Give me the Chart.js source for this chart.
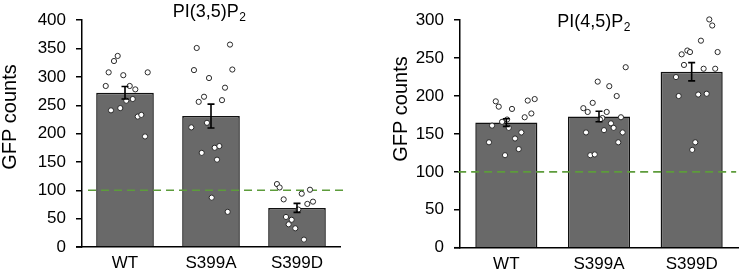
<!DOCTYPE html>
<html><head><meta charset="utf-8">
<script src="https://cdn.jsdelivr.net/npm/chart.js@4.4.0/dist/chart.umd.min.js"></script>
<style>
html,body{margin:0;padding:0;background:#fff;}
#wrap{position:relative;width:747px;height:272px;overflow:hidden;}
#c1{position:absolute;left:0;top:0;}
#c2{position:absolute;left:375px;top:0;}
</style></head><body>
<div id="wrap"><canvas id="c1" width="375" height="272"></canvas><canvas id="c2" width="372" height="272"></canvas></div>
<script>
// ---------- data ----------
const categories = ['WT', 'S399A', 'S399D'];
const yTitle = 'GFP counts';
const thresholdValue = 100;

// PI(3,5)P2 panel
const pi35Title = ['PI(3,5)P', '2'];
const pi35Ticks = [0, 50, 100, 150, 200, 250, 300, 350, 400];
const pi35Means = [272, 231, 69];
const pi35Sem = [11, 21, 8];
const pi35WT = [337, 328, 308, 303, 308, 284, 284, 278, 261, 258, 241, 245, 230, 233, 195];
const pi35WTJitter = [-0.085, -0.128, -0.19, -0.02, 0.264, -0.224, 0.055, 0.12, 0.09, 0.015, -0.163, -0.055, 0.148, 0.19, 0.233];
const pi35A = [351, 357, 312, 313, 298, 281, 265, 256, 259, 219, 211, 166, 175, 178, 154, 87, 62];
const pi35AJitter = [-0.166, 0.221, -0.198, 0.248, -0.023, 0.163, -0.081, -0.143, 0.128, -0.047, -0.229, -0.108, 0.043, 0.097, 0.07, 0.008, 0.194];
const pi35D = [111, 105, 84, 94, 101, 76, 80, 66, 53, 48, 40, 33, 13];
const pi35DJitter = [-0.233, -0.202, -0.155, 0.055, 0.151, 0.12, 0.186, 0.015, -0.128, -0.062, -0.097, -0.02, 0.081];

// PI(4,5)P2 panel
const pi45Title = ['PI(4,5)P', '2'];
const pi45Ticks = [0, 50, 100, 150, 200, 250, 300];
const pi45Means = [165, 173, 232];
const pi45Sem = [5, 7, 12];
const pi45WT = [193, 186, 183, 194, 196, 177, 172, 169, 166, 161, 158, 152, 144, 139, 130, 122];
const pi45WTJitter = [-0.114, -0.082, 0.061, 0.231, 0.306, 0.27, 0.198, 0.008, -0.046, -0.154, 0.026, 0.162, 0.094, -0.187, 0.134, -0.014];
const pi45A = [238, 219, 213, 200, 191, 184, 179, 179, 171, 169, 172, 164, 158, 155, 152, 152, 139, 122, 123];
const pi45AJitter = [0.288, -0.014, 0.111, 0.191, -0.068, -0.169, -0.122, 0.083, 0.036, 0.011, 0.237, 0.129, 0.158, 0.054, -0.14, 0.255, 0.208, -0.094, -0.046];
const pi45D = [301, 293, 273, 260, 258, 255, 258, 241, 236, 236, 225, 200, 202, 203, 139, 129];
const pi45DJitter = [0.19, 0.222, 0.1, -0.047, -0.018, -0.108, 0.28, -0.083, 0.129, 0.254, -0.169, -0.14, 0.071, 0.162, 0.039, 0.006];

// ---------- rendering ----------
const FONT = '"Liberation Sans", Arial, sans-serif';
const BAR_FILL = '#696969';
const DASH_GREEN = '#5d9c3b';

function pointsFrom(groups) {
  const out = [];
  groups.forEach(([vals, jit], i) => vals.forEach((v, j) => out.push({x: i + jit[j], y: v})));
  return out;
}

const errorBarPlugin = {
  id: 'errorBars',
  afterDatasetsDraw(chart, args, opts) {
    const {ctx} = chart;
    const xs = chart.scales.x, ys = chart.scales.y;
    ctx.save();
    ctx.strokeStyle = '#000';
    ctx.lineWidth = 1.6;
    opts.means.forEach((m, i) => {
      const x = xs.getPixelForValue(i);
      const yt = ys.getPixelForValue(m + opts.sem[i]);
      const yb = ys.getPixelForValue(m - opts.sem[i]);
      ctx.beginPath();
      ctx.moveTo(x, yt); ctx.lineTo(x, yb);
      ctx.moveTo(x - 3.5, yt); ctx.lineTo(x + 3.5, yt);
      ctx.moveTo(x - 3.5, yb); ctx.lineTo(x + 3.5, yb);
      ctx.stroke();
    });
    ctx.restore();
  }
};

const textPlugin = {
  id: 'panelText',
  afterDraw(chart, args, opts) {
    const {ctx, chartArea} = chart;
    ctx.save();
    ctx.fillStyle = '#000';
    ctx.font = '18px ' + FONT;
    const wMain = ctx.measureText(opts.title[0]).width;
    ctx.font = '12px ' + FONT;
    const wSub = ctx.measureText(opts.title[1]).width;
    const start = opts.titleX - (wMain + wSub) / 2;
    ctx.textBaseline = 'alphabetic';
    ctx.textAlign = 'left';
    ctx.font = '18px ' + FONT;
    ctx.fillText(opts.title[0], start, opts.titleY);
    ctx.font = '12px ' + FONT;
    ctx.fillText(opts.title[1], start + wMain + 0.5, opts.titleY + 4);
    ctx.font = opts.yTitleSize + 'px ' + FONT;
    ctx.translate(opts.yTitleX, opts.yTitleY);
    ctx.rotate(-Math.PI / 2);
    ctx.textAlign = 'center';
    ctx.textBaseline = 'middle';
    ctx.fillText(yTitle, 0, 0);
    ctx.restore();
    ctx.save();
    ctx.strokeStyle = '#000';
    ctx.lineWidth = 1.5;
    ctx.beginPath();
    ctx.moveTo(chartArea.left - 6, chartArea.bottom);
    ctx.lineTo(chartArea.left, chartArea.bottom);
    ctx.stroke();
    ctx.restore();
  }
};

function makeChart(canvasId, cfg) {
  const ctx = document.getElementById(canvasId);
  return new Chart(ctx, {
    data: {
      labels: categories,
      datasets: [
        {
          type: 'line', order: 0, xAxisID: 'xj', yAxisID: 'y',
          data: cfg.points, showLine: false,
          pointRadius: 2.6, pointBorderWidth: 1,
          pointBackgroundColor: '#fff', pointBorderColor: '#2a2a2a',
          clip: false
        },
        {
          type: 'line', order: 1, xAxisID: 'xj', yAxisID: 'y',
          data: [{x: cfg.dashFrom, y: thresholdValue}, {x: cfg.dashTo, y: thresholdValue}],
          borderColor: DASH_GREEN, borderWidth: 1.6, borderDash: [8, 5],
          pointRadius: 0, clip: false
        },
        {
          type: 'bar', order: 2, xAxisID: 'x', yAxisID: 'y',
          data: cfg.means, grouped: false,
          backgroundColor: BAR_FILL, borderColor: '#111', borderWidth: 1.5,
          categoryPercentage: 1.0, barPercentage: 0.67
        }
      ]
    },
    options: {
      responsive: false, animation: false,
      layout: {padding: {left: 0, right: cfg.padRight, top: cfg.padTop, bottom: 0}},
      plugins: {
        legend: {display: false}, tooltip: {enabled: false}, title: {display: false},
        errorBars: {means: cfg.means, sem: cfg.sem},
        panelText: cfg.text
      },
      scales: {
        x: {
          type: 'category', position: 'bottom', offset: true,
          grid: {display: false, drawTicks: false, tickLength: 0},
          border: {display: true, color: '#000', width: 1.5},
          ticks: {color: '#000', font: {family: FONT, size: 17}, padding: 6, maxRotation: 0},
          afterFit(s) { s.height = cfg.xHeight; }
        },
        xj: {
          type: 'linear', display: false, min: -0.5, max: 2.5
        },
        y: {
          type: 'linear', min: cfg.ticks[0], max: cfg.ticks[cfg.ticks.length - 1],
          afterBuildTicks(s) { s.ticks = cfg.ticks.map(v => ({value: v})); },
          grid: {drawOnChartArea: false, drawTicks: true, tickLength: 6, color: '#000', lineWidth: 1.5},
          border: {display: true, color: '#000', width: 1.5},
          ticks: {color: '#000', font: {family: FONT, size: 17}, padding: 10},
          afterFit(s) { s.width = cfg.yWidth; }
        }
      }
    },
    plugins: [errorBarPlugin, textPlugin]
  });
}

makeChart('c1', {
  means: pi35Means, sem: pi35Sem, ticks: pi35Ticks,
  points: pointsFrom([[pi35WT, pi35WTJitter], [pi35A, pi35AJitter], [pi35D, pi35DJitter]]),
  dashFrom: -0.43, dashTo: 2.59,
  padRight: 35, padTop: 11.7, xHeight: 25, yWidth: 82,
  text: {title: pi35Title, titleX: 209, titleY: 17, yTitleX: 10, yTitleY: 117, yTitleSize: 20}
});

makeChart('c2', {
  means: pi45Means, sem: pi45Sem, ticks: pi45Ticks,
  points: pointsFrom([[pi45WT, pi45WTJitter], [pi45A, pi45AJitter], [pi45D, pi45DJitter]]),
  dashFrom: -0.52, dashTo: 2.48,
  padRight: 9, padTop: 11.7, xHeight: 24.3, yWidth: 85,
  text: {title: pi45Title, titleX: 593.5 - 375, titleY: 27, yTitleX: 401 - 375, yTitleY: 109, yTitleSize: 20}
});
</script>
</body></html>
